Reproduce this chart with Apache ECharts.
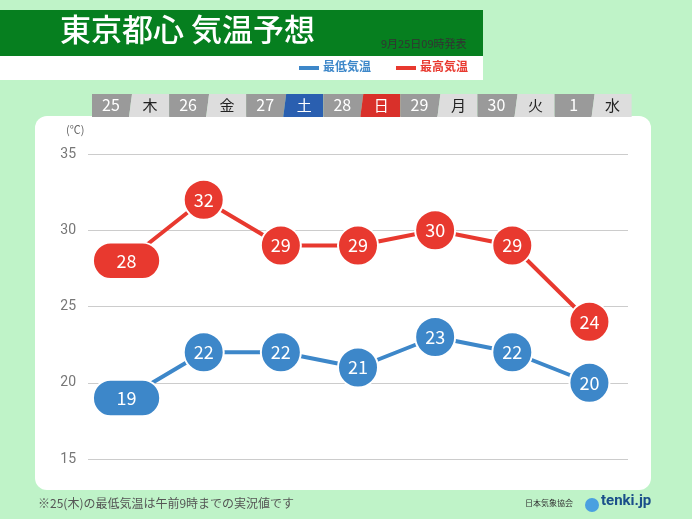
<!DOCTYPE html>
<html><head><meta charset="utf-8">
<script src="https://cdn.jsdelivr.net/npm/echarts@6/dist/echarts.min.js"></script>
<style>body{margin:0;background:#bff3c8}#c{width:692px;height:519px}</style>
</head><body><div id="c"></div>
<script>
var dates = ['25','26','27','28','29','30','1'];
var weekdays = ['木','金','土','日','月','火','水'];
var maxTemp = [28, 32, 29, 29, 30, 29, 24];
var minTemp = [19, 22, 22, 21, 23, 22, 20];
var yTicks = [15, 20, 25, 30, 35];

var F = '"Noto Sans CJK JP", sans-serif';
var RED = '#e8392f', BLUE = '#3d87c9';
var PILL = 'path://M18,0 H50 A18,18 0 0 1 50,36 H18 A18,18 0 0 1 18,0 Z';
var chart = echarts.init(document.getElementById('c'));

var g = [
  {type:'rect', shape:{x:0,y:10,width:483,height:46}, style:{fill:'#067f1f'}},
  {type:'rect', shape:{x:0,y:56,width:483,height:24}, style:{fill:'#fff'}},
  {type:'text', left:60, top:14, style:{text:'東京都心 気温予想', fill:'#fff', font:'500 31px '+F}},
  {type:'text', left:381, top:38, style:{text:'9月25日09時発表', fill:'#333', font:'11px '+F}},
  {type:'rect', shape:{x:299,y:66,width:20,height:4}, style:{fill:BLUE}},
  {type:'text', left:323, top:60, style:{text:'最低気温', fill:BLUE, font:'bold 12px '+F}},
  {type:'rect', shape:{x:396,y:66,width:20,height:4}, style:{fill:RED}},
  {type:'text', left:420, top:60, style:{text:'最高気温', fill:RED, font:'bold 12px '+F}},
  {type:'rect', shape:{x:35,y:116,width:616,height:374,r:12}, style:{fill:'#fff'}},
  {type:'text', left:66, top:124, style:{text:'(℃)', fill:'#666', font:'11px '+F}},
  {type:'text', left:38, top:497, style:{text:'※25(木)の最低気温は午前9時までの実況値です', fill:'#555', font:'12px '+F}},
  {type:'text', left:525, top:499, style:{text:'日本気象協会', fill:'#333', font:'8px '+F}},
  {type:'circle', shape:{cx:592,cy:505,r:7}, style:{fill:'#4aa0e0'}},
  {type:'text', left:601, top:494, style:{text:'tenki.jp', fill:'#1a4f8a', font:'bold 15px Roboto, sans-serif'}}
];
dates.forEach(function(d, i){
  var x = 92 + i*77.1;
  var wf = i===2 ? '#2a5fb0' : (i===3 ? '#d9302a' : '#ddd');
  var wc = (i===2||i===3) ? '#fff' : '#222';
  g.push({type:'polygon', shape:{points:[[x,94],[x+40,94],[x+37,117],[x,117]]}, style:{fill:'#9a9a9a'}});
  g.push({type:'polygon', shape:{points:[[x+40,94],[x+77,94],[x+77,117],[x+37,117]]}, style:{fill:wf}});
  g.push({type:'text', x:x+19, y:105, style:{text:d, fill:'#fff', font:'16px '+F, align:'center', verticalAlign:'middle'}});
  g.push({type:'text', x:x+58, y:105, style:{text:weekdays[i], fill:wc, font:'15px '+F, align:'center', verticalAlign:'middle'}});
});

function mk(vals, color){
  return {
    type:'line', z:5,
    data: vals.map(function(v, i){
      return i===0 ? {value:v, symbol:PILL, symbolSize:[68,36]} : {value:v};
    }),
    symbol:'circle', symbolSize:40,
    lineStyle:{color:color, width:4},
    itemStyle:{color:color, borderColor:'#fff', borderWidth:2},
    label:{show:true, position:'inside', color:'#fff', fontSize:18, fontFamily:F},
    animation:false
  };
}

chart.setOption({
  graphic: g,
  grid:{left:88, right:64, top:154, bottom:60},
  xAxis:{type:'category', data:dates, show:false},
  yAxis:{type:'value', min:15, max:35, interval:5,
    axisLabel:{color:'#777', fontSize:14, margin:12, fontFamily:'Roboto'},
    splitLine:{lineStyle:{color:'#ccc'}}},
  series:[mk(maxTemp, RED), mk(minTemp, BLUE)]
});
</script></body></html>
